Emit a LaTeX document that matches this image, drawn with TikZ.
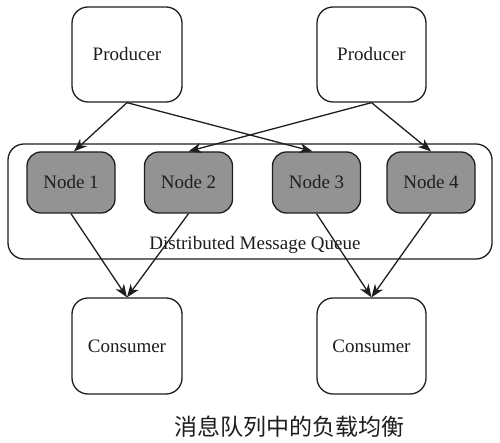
\documentclass[tikz,border=0pt]{standalone}
\usepackage{fontspec}
\setmainfont{Liberation Serif}
\newfontfamily\tnr{Liberation Serif}
\newfontfamily\cjk{Noto Sans CJK SC}
\usetikzlibrary{arrows.meta}
\definecolor{ink}{HTML}{1E1E1E}
\definecolor{nodegray}{HTML}{939393}
\begin{document}
\begin{tikzpicture}[x=1pt,y=1pt,
  txt/.style={font=\tnr\fontsize{19}{22}\selectfont,text=ink},
  box/.style={txt,draw=ink,line width=1.3pt,rounded corners=16pt,fill=white,inner sep=0pt},
  qnode/.style={txt,draw=ink,line width=1.3pt,rounded corners=14pt,fill=nodegray,minimum width=88pt,minimum height=61pt,inner sep=0pt},
  link/.style={draw=ink,line width=1.3pt,-{Stealth[length=13pt,width=10pt,inset=4pt]}}]
\useasboundingbox (0,0) rectangle (500,443);
\fill[white] (0,0) rectangle (500,443);
% producers
\node[box,minimum width=110pt,minimum height=95pt] (P1) at (127,388.5) {Producer};
\node[box,minimum width=109pt,minimum height=95pt] (P2) at (371.5,388.5) {Producer};
% queue
\node[draw=ink,line width=1.3pt,rounded corners=16pt,minimum width=484pt,minimum height=115pt,inner sep=0pt] (Q) at (250,241.5) {};
\node[txt,inner sep=0pt] (QL) at (255,198) {Distributed Message Queue};
% nodes
\node[qnode] (N1) at (71,260.5) {Node 1};
\node[qnode] (N2) at (188.5,260.5) {Node 2};
\node[qnode] (N3) at (316.5,260.5) {Node 3};
\node[qnode] (N4) at (431,260.5) {Node 4};
% consumers
\node[box,minimum width=110pt,minimum height=96pt] (C1) at (127,97) {Consumer};
\node[box,minimum width=109pt,minimum height=96pt] (C2) at (371.5,97) {Consumer};
% arrows
\draw[link] (P1.south) -- ([xshift=3pt]N1.north);
\draw[link] (P1.south) -- ([xshift=-4pt]N3.north);
\draw[link] (P2.south) -- (N2.north);
\draw[link] (P2.south) -- (N4.north);
\draw[link] (N1.south) -- (C1.north);
\draw[link] (N2.south) -- (C1.north);
\draw[link] (N3.south) -- (C2.north);
\draw[link] (N4.south) -- (C2.north);
% caption
\node[font=\cjk\fontsize{23}{26}\selectfont,text=ink,inner sep=0pt] (cap) at (289,16) {消息队列中的负载均衡};
\end{tikzpicture}
\end{document}
